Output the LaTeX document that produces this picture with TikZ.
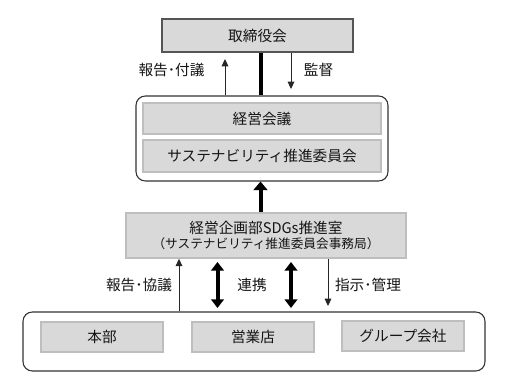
\documentclass[tikz,border=0pt]{standalone}
\usepackage{fontspec}
\setmainfont{Noto Sans CJK JP}
\usetikzlibrary{arrows.meta}
\definecolor{boxfill}{HTML}{D9D9D9}
\definecolor{boxline}{HTML}{BEBEBE}
\definecolor{topline}{HTML}{555555}
\definecolor{txt}{HTML}{141414}
\def\pxu{0.75pt}
\tikzset{
  box/.style={draw=boxline, fill=boxfill, line width=1.2pt, inner sep=0pt, text=txt, font=\fontsize{11pt}{13pt}\selectfont},
  topbox/.style={box, draw=topline, line width=1.4pt},
  group/.style={draw=black!80, line width=0.8pt, rounded corners=7pt, inner sep=0pt},
  lbl/.style={text=txt, font=\fontsize{11pt}{13pt}\selectfont, inner sep=0pt},
  thin/.style={line width=0.75pt, -{Triangle[width=5pt,length=5.5pt]}, black!85},
  thick/.style={line width=3pt, -{Triangle[width=10.5pt,length=6.5pt]}},
  dbl/.style={line width=3pt, {Triangle[width=9.5pt,length=6.5pt]}-{Triangle[width=9.5pt,length=6.5pt]}},
}
\begin{document}
\begin{tikzpicture}[x=0.75pt,y=-0.75pt]
\useasboundingbox (0,0) rectangle (507,373);
% boxes
\node[topbox, minimum width=191*\pxu, minimum height=33*\pxu] (top) at (257.5,35.5) {取締役会};
\node[group, minimum width=252*\pxu, minimum height=85*\pxu] (upper) at (262,138.5) {};
\node[box, minimum width=238*\pxu, minimum height=31*\pxu] (keiei) at (262,118.5) {経営会議};
\node[box, minimum width=238*\pxu, minimum height=32*\pxu] (sus) at (262,156) {サステナビリティ推進委員会};
\node[box, minimum width=280*\pxu, minimum height=45*\pxu, align=center] (sdg) at (266,235.5)
  {経営企画部SDGs推進室\\[-2pt]{\fontsize{9.5pt}{11pt}\selectfont （サステナビリティ推進委員会事務局）}};
\node[group, minimum width=462*\pxu, minimum height=59*\pxu] (lower) at (254,341.5) {};
\node[box, minimum width=122*\pxu, minimum height=29.5*\pxu] (honbu) at (102,337) {本部};
\node[box, minimum width=122*\pxu, minimum height=30*\pxu] (eigyo) at (253,337) {営業店};
\node[box, minimum width=122*\pxu, minimum height=30*\pxu] (group) at (403,336) {グループ会社};
% x positions and free ends
\coordinate (xa) at (261,0);
\coordinate (xb) at (225,0);
\coordinate (xc) at (291,0);
\coordinate (xd) at (260.5,0);
\coordinate (xe) at (179,0);
\coordinate (xf) at (328,0);
\coordinate (upTip) at (225,59);
\coordinate (downTip) at (291,89);
\coordinate (d1a) at (217.5,262);
\coordinate (d1b) at (217.5,308);
\coordinate (d2a) at (291,262);
\coordinate (d2b) at (291,308);
\coordinate (downTip2) at (328,306);
% connectors
\draw[line width=3pt] (top.south -| xa) -- (upper.north -| xa);
\draw[thin] (upper.north -| xb) -- (upTip);
\draw[thin] (top.south -| xc) -- (downTip);
\draw[thick] (sdg.north -| xd) -- (upper.south -| xd);
\draw[thin] (lower.north -| xe) -- (sdg.south -| xe);
\draw[dbl] (d1a) -- (d1b);
\draw[dbl] (d2a) -- (d2b);
\draw[thin] (sdg.south -| xf) -- (downTip2);
% labels
\node[lbl] (l1) at (171.5,70) {報告･付議};
\node[lbl] (l2) at (318.5,70) {監督};
\node[lbl] (l3) at (139,285) {報告･協議};
\node[lbl] (l4) at (252,285) {連携};
\node[lbl] (l5) at (368,285) {指示･管理};
\end{tikzpicture}
\end{document}
